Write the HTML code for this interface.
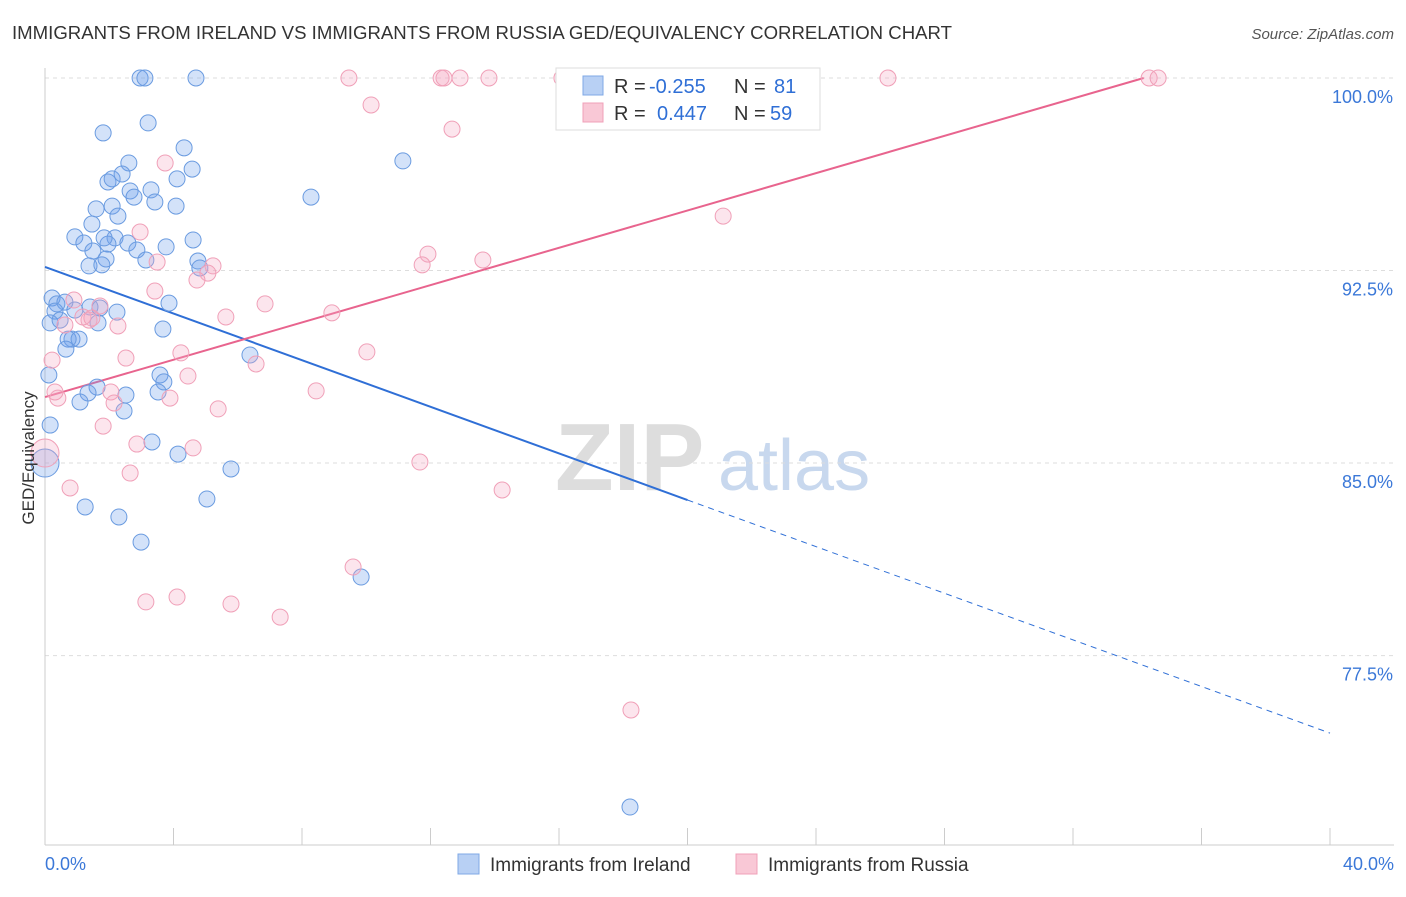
<!DOCTYPE html>
<html><head><meta charset="utf-8"><style>
body{margin:0;background:#fff;font-family:"Liberation Sans",sans-serif;}
svg text{font-family:"Liberation Sans",sans-serif;}
</style></head><body>
<svg id="chart" width="1406" height="892" xmlns="http://www.w3.org/2000/svg">
<text x="12" y="39" font-size="18" fill="#333" textLength="940" lengthAdjust="spacingAndGlyphs">IMMIGRANTS FROM IRELAND VS IMMIGRANTS FROM RUSSIA GED/EQUIVALENCY CORRELATION CHART</text>
<text x="1394" y="39" font-size="15" fill="#555" font-style="italic" text-anchor="end">Source: ZipAtlas.com</text>
<g><text x="555" y="490" font-size="96" fill="#ddd" font-family="Liberation Serif" font-weight="bold">ZIP</text><text x="718" y="490" font-size="72" fill="#c8d8ee">atlas</text></g>
<g id="grid"></g><g id="axes"></g><g id="trend"></g><g id="pts"></g>
<text transform="translate(34,458) rotate(-90)" font-size="17" fill="#333" text-anchor="middle">GED/Equivalency</text>
<g>
<rect x="556" y="68" width="264" height="62" fill="#fff" stroke="#ddd"/>
<rect x="583" y="76" width="20" height="19" fill="#b8d0f4" stroke="#7fa8e6"/>
<rect x="583" y="103" width="20" height="19" fill="#f9c8d6" stroke="#f0a0b8"/>
<text x="614" y="93" font-size="20" fill="#333">R =</text>
<text x="649" y="93" font-size="20" fill="#2f6fd6">-0.255</text>
<text x="734" y="93" font-size="20" fill="#333">N =</text>
<text x="774" y="93" font-size="20" fill="#2f6fd6">81</text>
<text x="614" y="120" font-size="20" fill="#333">R =</text>
<text x="657" y="120" font-size="20" fill="#2f6fd6">0.447</text>
<text x="734" y="120" font-size="20" fill="#333">N =</text>
<text x="770" y="120" font-size="20" fill="#2f6fd6">59</text>
</g>
<g>
<rect x="458" y="854" width="21" height="20" fill="#b8d0f4" stroke="#7fa8e6"/>
<text x="490" y="871" font-size="19" fill="#333">Immigrants from Ireland</text>
<rect x="736" y="854" width="21" height="20" fill="#f9c8d6" stroke="#f0a0b8"/>
<text x="768" y="871" font-size="19" fill="#333">Immigrants from Russia</text>
</g>
</svg>
<script>
const xTicks=[0,4,8,12,16,20,24,28,32,36,40];
const yTicks=[100,92.5,85,77.5];
const yTickLabels=["100.0%","92.5%","85.0%","77.5%"];
const xEndLabels=["0.0%","40.0%"];
const irelandX=[2.96,3.11,4.70,1.81,3.21,4.33,11.14,2.61,4.58,1.96,2.09,2.40,3.30,4.11,2.65,2.77,3.42,2.09,1.59,2.27,4.08,8.28,1.46,0.93,1.21,2.18,2.58,1.96,1.49,2.86,3.77,4.61,1.90,1.37,1.77,3.14,4.76,4.82,0.22,0.37,0.62,0.31,0.93,1.40,1.71,2.24,0.16,0.47,1.65,3.86,3.67,0.84,0.72,1.06,0.65,6.38,0.12,3.58,3.70,1.62,1.34,3.52,2.52,1.09,2.46,0.16,3.33,4.14,0,5.79,5.04,1.25,2.30,2.99,9.84,18.21,1.84];
const irelandY=[100,100,100,97.86,98.25,97.28,96.77,96.69,96.45,95.95,96.07,96.26,95.64,96.07,95.60,95.36,95.17,95.01,94.90,94.62,95.01,95.36,94.31,93.81,93.57,93.77,93.57,93.53,93.26,93.30,93.42,93.69,92.95,92.68,92.72,92.91,92.87,92.60,91.43,91.20,91.27,90.92,90.96,91.08,91.04,90.88,90.46,90.57,90.46,91.23,90.22,89.83,89.83,89.83,89.44,89.21,88.43,88.43,88.16,87.96,87.73,87.77,87.65,87.38,87.03,86.48,85.82,85.35,85.0,84.77,83.60,83.29,82.90,81.92,80.56,71.60,93.77];
const russiaX=[9.46,12.33,12.42,12.92,13.82,16.09,26.24,34.37,34.65,10.15,12.67,3.74,21.11,2.96,11.92,13.63,11.74,5.23,3.49,5.07,4.73,3.42,6.85,0.90,1.71,1.37,1.18,2.27,5.63,8.93,0.22,2.52,4.23,10.02,6.57,4.45,8.44,2.05,0.40,3.89,2.15,5.39,1.81,2.86,4.61,11.67,2.65,0.78,14.23,9.59,3.14,4.11,5.79,7.32,18.24,0,0.31,0.62,1.46];
const russiaY=[100,100,100,100,100,100,100,100,100,98.95,98.01,96.69,94.62,94.00,93.14,92.91,92.72,92.68,92.83,92.40,92.13,91.70,91.20,91.35,91.12,90.57,90.69,90.34,90.69,90.85,89.01,89.09,89.29,89.33,88.86,88.39,87.81,87.77,87.53,87.53,87.34,87.11,86.44,85.74,85.59,85.04,84.61,84.03,83.95,80.95,79.59,79.78,79.51,79.00,75.38,85.39,87.77,90.38,90.65];
const irelandTrend=[92.64,74.48];
const russiaTrend=[87.57,100,34.2];
const X=v=>45+v/40*1285, Y=v=>78+(100-v)*25.67;
const NS="http://www.w3.org/2000/svg";
function mk(p,t,a){const e=document.createElementNS(NS,t);for(const k in a)e.setAttribute(k,a[k]);document.getElementById(p).appendChild(e);return e;}
yTicks.forEach((t,i)=>{
 const g=mk('grid','line',{x1:45,x2:1394,y1:Y(t),y2:Y(t),stroke:'#ddd','stroke-dasharray':'4,4'});
 
 
 const l=mk('grid','text',{x:1393,y:Y(t)+25,'font-size':18,fill:'#3b78d8','text-anchor':'end'});l.textContent=yTickLabels[i];
 
 
});
let a=mk('axes','line',{x1:45,x2:45,y1:68,y2:845,stroke:'#ccc'});


a=mk('axes','line',{x1:45,x2:1394,y1:845,y2:845,stroke:'#ccc'});


xTicks.forEach(t=>{const e=mk('axes','line',{x1:X(t),x2:X(t),y1:828,y2:845,stroke:'#ccc'});
 
 });
let t0=mk('axes','text',{x:45,y:870,'font-size':18,fill:'#3b78d8'});t0.textContent=xEndLabels[0];


let t1=mk('axes','text',{x:1394,y:870,'font-size':18,fill:'#3b78d8','text-anchor':'end'});t1.textContent=xEndLabels[1];


irelandX.forEach((x,i)=>{const big=(x===0);const c=mk('pts','circle',{cx:X(x),cy:Y(irelandY[i]),r:big?14:8,fill:'rgba(110,160,235,0.3)',stroke:'#6a9be0','stroke-width':1});
 
 });
russiaX.forEach((x,i)=>{const big=(x===0);const c=mk('pts','circle',{cx:X(x),cy:Y(russiaY[i]),r:big?14:8,fill:'rgba(245,170,195,0.3)',stroke:'#f0a0b8','stroke-width':1});
 
 });
const by=x=>irelandTrend[0]+(irelandTrend[1]-irelandTrend[0])*x/40;
let l1=mk('trend','line',{x1:X(0),y1:Y(by(0)),x2:X(20),y2:Y(by(20)),stroke:'#2f6fd6','stroke-width':2});


let l2=mk('trend','line',{x1:X(20),y1:Y(by(20)),x2:X(40),y2:Y(by(40)),stroke:'#2f6fd6','stroke-width':1,'stroke-dasharray':'6,5'});


let l3=mk('trend','line',{x1:X(0),y1:Y(russiaTrend[0]),x2:X(russiaTrend[2]),y2:Y(russiaTrend[1]),stroke:'#e8648e','stroke-width':2});


</script>
</body></html>
